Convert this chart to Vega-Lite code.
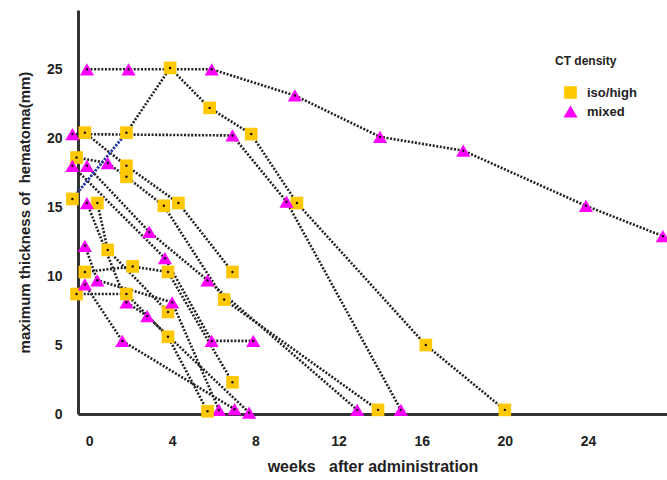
{
  "$schema": "https://vega.github.io/schema/vega-lite/v6.json",
  "width": 589,
  "height": 404,
  "autosize": {"type": "none"},
  "padding": {"left": 78, "top": 10, "right": 0, "bottom": 66},
  "background": "white",
  "config": {"view": {"stroke": null}, "font": "Liberation Sans"},
  "datasets": {
    "pts": [
      {"patient": "P1", "week": -0.1, "mm": 25.0, "density": "mixed"},
      {"patient": "P1", "week": 1.9, "mm": 25.0, "density": "mixed"},
      {"patient": "P1", "week": 5.9, "mm": 25.0, "density": "mixed"},
      {"patient": "P1", "week": 9.9, "mm": 23.1, "density": "mixed"},
      {"patient": "P1", "week": 14.0, "mm": 20.1, "density": "mixed"},
      {"patient": "P1", "week": 18.0, "mm": 19.1, "density": "mixed"},
      {"patient": "P1", "week": 23.9, "mm": 15.1, "density": "mixed"},
      {"patient": "P1", "week": 27.6, "mm": 12.9, "density": "mixed"},
      {"patient": "P2", "week": -0.8, "mm": 15.6, "density": "iso/high"},
      {"patient": "P2", "week": 1.8, "mm": 20.4, "density": "iso/high"},
      {"patient": "P2", "week": 3.9, "mm": 25.1, "density": "iso/high"},
      {"patient": "P2", "week": 5.8, "mm": 22.2, "density": "iso/high"},
      {"patient": "P2", "week": 7.8, "mm": 20.3, "density": "iso/high"},
      {"patient": "P2", "week": 10.0, "mm": 15.3, "density": "iso/high"},
      {"patient": "P2", "week": 16.2, "mm": 5.0, "density": "iso/high"},
      {"patient": "P2", "week": 20.0, "mm": 0.3, "density": "iso/high"},
      {"patient": "P3", "week": -0.8, "mm": 20.3, "density": "mixed"},
      {"patient": "P3", "week": 6.9, "mm": 20.2, "density": "mixed"},
      {"patient": "P3", "week": 9.5, "mm": 15.4, "density": "mixed"},
      {"patient": "P3", "week": 15.0, "mm": 0.3, "density": "mixed"},
      {"patient": "P4", "week": -0.2, "mm": 20.4, "density": "iso/high"},
      {"patient": "P4", "week": 1.8, "mm": 18.0, "density": "iso/high"},
      {"patient": "P4", "week": 4.3, "mm": 15.3, "density": "iso/high"},
      {"patient": "P4", "week": 6.9, "mm": 10.3, "density": "iso/high"},
      {"patient": "P5", "week": -0.6, "mm": 18.6, "density": "iso/high"},
      {"patient": "P5", "week": 0.9, "mm": 18.2, "density": "mixed"},
      {"patient": "P5", "week": 1.8, "mm": 17.2, "density": "iso/high"},
      {"patient": "P5", "week": 3.6, "mm": 15.1, "density": "iso/high"},
      {"patient": "P5", "week": 6.5, "mm": 8.3, "density": "iso/high"},
      {"patient": "P5", "week": 13.9, "mm": 0.3, "density": "iso/high"},
      {"patient": "P6", "week": -0.1, "mm": 18.0, "density": "mixed"},
      {"patient": "P6", "week": 2.9, "mm": 13.2, "density": "mixed"},
      {"patient": "P6", "week": 5.7, "mm": 9.7, "density": "mixed"},
      {"patient": "P6", "week": 12.9, "mm": 0.3, "density": "mixed"},
      {"patient": "P7", "week": -0.8, "mm": 18.0, "density": "mixed"},
      {"patient": "P7", "week": 3.65, "mm": 11.3, "density": "mixed"},
      {"patient": "P7", "week": 5.9, "mm": 5.3, "density": "mixed"},
      {"patient": "P7", "week": 7.9, "mm": 5.3, "density": "mixed"},
      {"patient": "P8", "week": 0.4, "mm": 15.3, "density": "iso/high"},
      {"patient": "P8", "week": 0.9, "mm": 11.9, "density": "iso/high"},
      {"patient": "P8", "week": 3.8, "mm": 7.4, "density": "iso/high"},
      {"patient": "P9", "week": -0.1, "mm": 15.3, "density": "mixed"},
      {"patient": "P9", "week": 1.8, "mm": 8.1, "density": "mixed"},
      {"patient": "P9", "week": 2.8, "mm": 7.1, "density": "mixed"},
      {"patient": "P9", "week": 7.7, "mm": 0.1, "density": "mixed"},
      {"patient": "P10", "week": -0.2, "mm": 10.3, "density": "iso/high"},
      {"patient": "P10", "week": 2.1, "mm": 10.7, "density": "iso/high"},
      {"patient": "P10", "week": 3.8, "mm": 10.3, "density": "iso/high"},
      {"patient": "P10", "week": 6.9, "mm": 2.3, "density": "iso/high"},
      {"patient": "P11", "week": -0.2, "mm": 12.2, "density": "mixed"},
      {"patient": "P11", "week": 0.4, "mm": 9.7, "density": "mixed"},
      {"patient": "P11", "week": 4.0, "mm": 8.1, "density": "mixed"},
      {"patient": "P11", "week": 6.25, "mm": 0.3, "density": "mixed"},
      {"patient": "P12", "week": -0.6, "mm": 8.7, "density": "iso/high"},
      {"patient": "P12", "week": 1.8, "mm": 8.7, "density": "iso/high"},
      {"patient": "P12", "week": 3.8, "mm": 5.6, "density": "iso/high"},
      {"patient": "P12", "week": 5.7, "mm": 0.2, "density": "iso/high"},
      {"patient": "P13", "week": -0.2, "mm": 9.4, "density": "mixed"},
      {"patient": "P13", "week": 1.6, "mm": 5.3, "density": "mixed"},
      {"patient": "P13", "week": 7.0, "mm": 0.35, "density": "mixed"}
    ],
    "blue": [
      {"patient": "P2", "week": -0.8, "mm": 15.6},
      {"patient": "P2", "week": 1.8, "mm": 20.4}
    ]
  },
  "encoding": {
    "x": {
      "field": "week", "type": "quantitative",
      "scale": {"domain": [-0.53, 27.8], "nice": false, "zero": false},
      "axis": {
        "title": "weeks\u00a0\u00a0\u00a0after administration",
        "values": [0, 4, 8, 12, 16, 20, 24],
        "ticks": false, "grid": false,
        "domainColor": "#333", "domainWidth": 3,
        "labelFontSize": 14, "labelFontWeight": "bold", "labelColor": "#222",
        "labelPadding": 20,
        "titleFontSize": 16, "titleFontWeight": "bold", "titleColor": "#222",
        "titlePadding": 10
      }
    },
    "y": {
      "field": "mm", "type": "quantitative",
      "scale": {"domain": [0, 29.3], "nice": false},
      "axis": {
        "title": "maximum thickness of\u00a0\u00a0hematoma(mm)",
        "values": [0, 5, 10, 15, 20, 25],
        "ticks": false, "grid": false,
        "domainColor": "#333", "domainWidth": 3,
        "labelFontSize": 14, "labelFontWeight": "bold", "labelColor": "#222",
        "labelPadding": 16,
        "titleFontSize": 15, "titleFontWeight": "bold", "titleColor": "#222",
        "titlePadding": 14
      }
    }
  },
  "layer": [
    {
      "data": {"name": "pts"},
      "mark": {"type": "line", "stroke": "#222", "strokeWidth": 2.6, "strokeDash": [2, 1.6], "clip": false},
      "encoding": {"detail": {"field": "patient"}}
    },
    {
      "data": {"name": "blue"},
      "mark": {"type": "line", "stroke": "#2a3bc4", "strokeWidth": 2.6, "strokeDash": [2, 1.6]},
      "encoding": {"detail": {"field": "patient"}}
    },
    {
      "data": {"name": "pts"},
      "mark": {"type": "point", "filled": true, "opacity": 1, "clip": false},
      "encoding": {
        "color": {"field": "density", "type": "nominal",
          "scale": {"domain": ["iso/high", "mixed"], "range": ["#FFC800", "#FF00FF"]},
          "legend": {"title": "CT density", "orient": "none", "legendX": 477, "legendY": 46,
            "titleFontSize": 12, "titleFontWeight": "bold", "titleColor": "#222",
            "titlePadding": 18,
            "labelFontSize": 13, "labelFontWeight": "bold", "labelColor": "#222",
            "labelOffset": 9, "symbolOffset": 8,
            "rowPadding": 4, "symbolStrokeWidth": 0}},
        "shape": {"field": "density", "type": "nominal",
          "scale": {"domain": ["iso/high", "mixed"], "range": ["square", "triangle-up"]}},
        "size": {"field": "density", "type": "nominal",
          "scale": {"domain": ["iso/high", "mixed"], "range": [160, 200]}}
      }
    },
    {
      "data": {"name": "pts"},
      "mark": {"type": "point", "filled": true, "color": "#111", "size": 6, "opacity": 1, "clip": false}
    }
  ]
}
